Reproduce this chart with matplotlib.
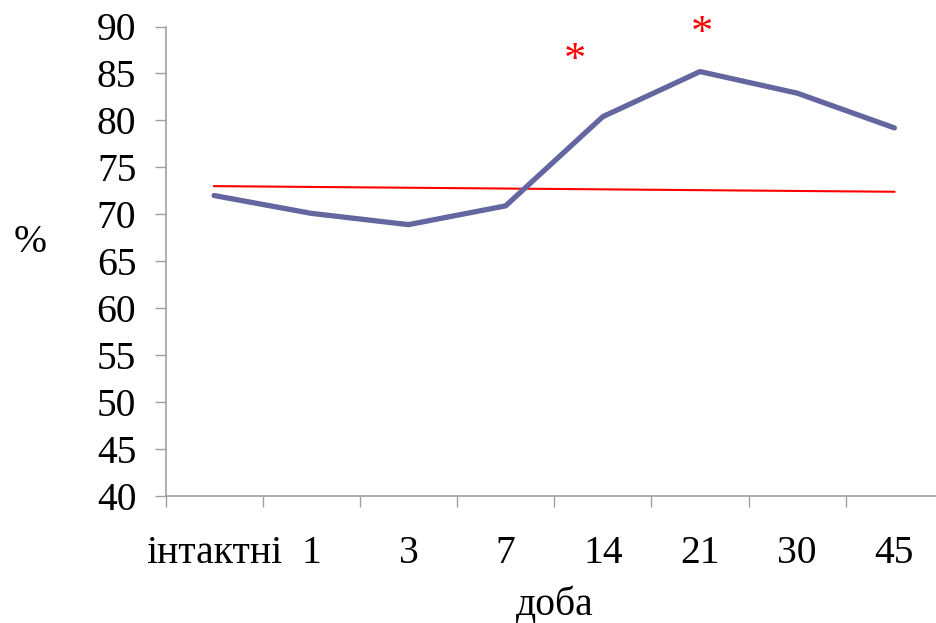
import matplotlib
matplotlib.use("Agg")
import matplotlib.pyplot as plt
import numpy as np

# Categories (days) and measured percentages
days = ["інтактні", "1", "3", "7", "14", "21", "30", "45"]
percent = [72.0, 70.1, 68.9, 70.9, 80.4, 85.2, 82.9, 79.2]
# Reference level drawn between first and last day
reference = [73.0, 72.4]
# Significance markers: (x position in category units, y value)
star_x = [3.71, 5.02]
star_y = [86.3, 89.2]

plt.rcParams["font.family"] = ["Liberation Serif", "DejaVu Serif"]
FS = 28.5

fig = plt.figure(figsize=(9.36, 6.23), dpi=100)
W, H = 936, 623
left, right = 165.5, 943.0
top, bottom = 26.5, 496.0
ax = fig.add_axes([left / W, (H - bottom) / H, (right - left) / W, (bottom - top) / H])

x = np.arange(len(days))
ax.plot(x, percent, color="#6466A0", lw=3.8, solid_capstyle="round", solid_joinstyle="round", zorder=3)
ax.plot([x[0], x[-1]], reference, color="#FF0000", lw=1.5, zorder=2)

for sx, sy in zip(star_x, star_y):
    ax.text(sx, sy, "*", color="#FF0000", fontsize=32, ha="center", va="center")

ax.set_xlim(-0.5, len(days) - 0.5)
ax.set_ylim(40, 90)
ax.set_yticks(np.arange(40, 91, 5))
ax.tick_params(axis="y", labelsize=FS, length=8, width=1.0, color="#A0A0A0", pad=13, direction="out")

# Boundary ticks between categories, labels at category centres
ax.set_xticks(np.arange(-0.5, len(days) - 0.5, 1.0))
ax.set_xticklabels([])
ax.set_xticks(x, minor=True)
ax.set_xticklabels(days, minor=True)
ax.tick_params(axis="x", which="major", length=8, width=1.0, color="#A0A0A0", direction="out")
ax.tick_params(axis="x", which="minor", length=0, labelsize=FS, pad=28)

for side in ("top", "right"):
    ax.spines[side].set_visible(False)
for side in ("left", "bottom"):
    ax.spines[side].set_color("#A0A0A0")
    ax.spines[side].set_linewidth(1.2)

fig.text(555 / W, 1 - 605 / H, "доба", fontsize=FS, ha="center", va="center")
fig.text(30 / W, 1 - 242 / H, "%", fontsize=FS, ha="center", va="center")

fig.savefig("out.png", dpi=100)
